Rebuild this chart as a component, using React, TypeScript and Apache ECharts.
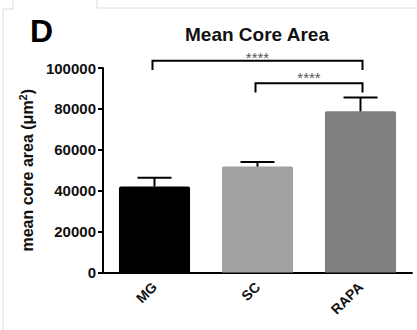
import React, { useEffect, useRef } from "react";
import * as echarts from "echarts";

const categories = ["MG", "SC", "RAPA"];
const meanValues = [42000, 51800, 78800];
const errorValues = [4300, 2200, 6800];
const barColors = ["#000000", "#a1a1a3", "#808080"];
const yMin = 0;
const yMax = 100000;
const yInterval = 20000;
const bracketFrom = [0, 1];
const bracketTo = [2, 2];
const bracketLevel = [103600, 92600];
const bracketDrop = [4600, 4600];
const bracketLabels = ["****", "****"];

const FONT = "'Liberation Sans', Arial, Helvetica, sans-serif";

export default function App() {
  const ref = useRef<HTMLDivElement>(null);
  useEffect(() => {
    if (!ref.current) return;
    const chart = echarts.init(ref.current, null, { renderer: "svg" });
    const option: any = {
      animation: false,
      backgroundColor: "#ffffff",
      grid: { left: 103, right: 5, top: 68, bottom: 57.5, containLabel: false },
      graphic: [
        {
          type: "polyline",
          shape: { points: [[3, 330], [3, 9], [13, 9], [13, 0]] },
          style: { stroke: "#dcdcdc", lineWidth: 1, fill: "none" },
          silent: true,
        },
        {
          type: "polyline",
          shape: { points: [[97, 0], [97, 8], [417, 8]] },
          style: { stroke: "#dcdcdc", lineWidth: 1, fill: "none" },
          silent: true,
        },
        {
          type: "text",
          left: 30,
          top: 15,
          style: { text: "D", font: `bold 32px ${FONT}`, fill: "#000" },
        },
        {
          type: "text",
          x: 257,
          y: 34,
          style: {
            text: "Mean Core Area",
            font: `bold 19px ${FONT}`,
            fill: "#111",
            align: "center",
            verticalAlign: "middle",
          },
        },
      ],
      xAxis: {
        type: "category",
        data: categories,
        axisLine: { lineStyle: { color: "#000", width: 2 } },
        axisTick: { alignWithLabel: true, length: 5, lineStyle: { color: "#000", width: 2 } },
        axisLabel: {
          rotate: 45,
          margin: 12,
          color: "#111",
          fontFamily: FONT,
          fontWeight: "bold",
          fontSize: 14,
        },
      },
      yAxis: {
        type: "value",
        min: yMin,
        max: yMax,
        interval: yInterval,
        name: "mean core area (μm{sup|2})",
        nameLocation: "middle",
        nameGap: 64,
        nameRotate: 90,
        nameTextStyle: {
          color: "#111",
          fontFamily: FONT,
          fontWeight: "bold",
          fontSize: 16,
          rich: {
            sup: {
              fontFamily: FONT,
              fontWeight: "bold",
              fontSize: 11,
              color: "#111",
              padding: [0, 0, 9, 0],
            },
          },
        },
        splitLine: { show: false },
        axisLine: { show: true, lineStyle: { color: "#000", width: 2 } },
        axisTick: { show: true, length: 5, lineStyle: { color: "#000", width: 2 } },
        axisLabel: {
          margin: 7,
          color: "#111",
          fontFamily: FONT,
          fontWeight: "bold",
          fontSize: 15,
          formatter: (v: number) => String(v),
        },
      },
      series: [
        {
          type: "bar",
          barWidth: "69%",
          data: meanValues.map((v, i) => ({
            value: v,
            itemStyle: { color: barColors[i], borderRadius: [2, 2, 0, 0] },
          })),
          z: 2,
        },
        {
          type: "custom",
          z: 3,
          clip: false,
          data: meanValues.map((v, i) => [i, v, v + errorValues[i]]),
          encode: { x: 0, y: [1, 2] },
          renderItem: (params: any, api: any) => {
            const i = api.value(0);
            const low = api.coord([i, api.value(1)]);
            const high = api.coord([i, api.value(2)]);
            const half = 17;
            return {
              type: "group",
              children: [
                {
                  type: "line",
                  shape: { x1: low[0], y1: low[1], x2: high[0], y2: high[1] },
                  style: { stroke: "#000", lineWidth: 2 },
                },
                {
                  type: "line",
                  shape: { x1: high[0] - half, y1: high[1], x2: high[0] + half, y2: high[1] },
                  style: { stroke: "#000", lineWidth: 2 },
                },
              ],
            };
          },
        },
        {
          type: "custom",
          z: 3,
          clip: false,
          data: bracketFrom.map((f, k) => [f, bracketTo[k], bracketLevel[k], bracketDrop[k], k]),
          encode: { x: [0, 1], y: 2 },
          renderItem: (params: any, api: any) => {
            const f = api.value(0);
            const t = api.value(1);
            const lvl = api.value(2);
            const drop = api.value(3);
            const k = api.value(4);
            const a = api.coord([f, lvl]);
            const b = api.coord([t, lvl]);
            const a2 = api.coord([f, lvl - drop]);
            return {
              type: "group",
              children: [
                {
                  type: "polyline",
                  shape: {
                    points: [
                      [a[0] - 2, a2[1]],
                      [a[0] - 2, a[1]],
                      [b[0] + 2, b[1]],
                      [b[0] + 2, a2[1]],
                    ],
                  },
                  style: { stroke: "#000", lineWidth: 2, fill: "none" },
                },
                {
                  type: "text",
                  style: {
                    text: bracketLabels[k],
                    x: (a[0] + b[0]) / 2,
                    y: a[1] + (k === 0 ? 4 : 2),
                    align: "center",
                    verticalAlign: "bottom",
                    fill: "#555",
                    font: `15px ${FONT}`,
                  },
                },
              ],
            };
          },
        },
      ],
    };
    chart.setOption(option);
    return () => chart.dispose();
  }, []);
  return (
    <div
      ref={ref}
      style={{ position: "fixed", left: 0, top: 0, width: 417, height: 330, background: "#fff" }}
    />
  );
}
